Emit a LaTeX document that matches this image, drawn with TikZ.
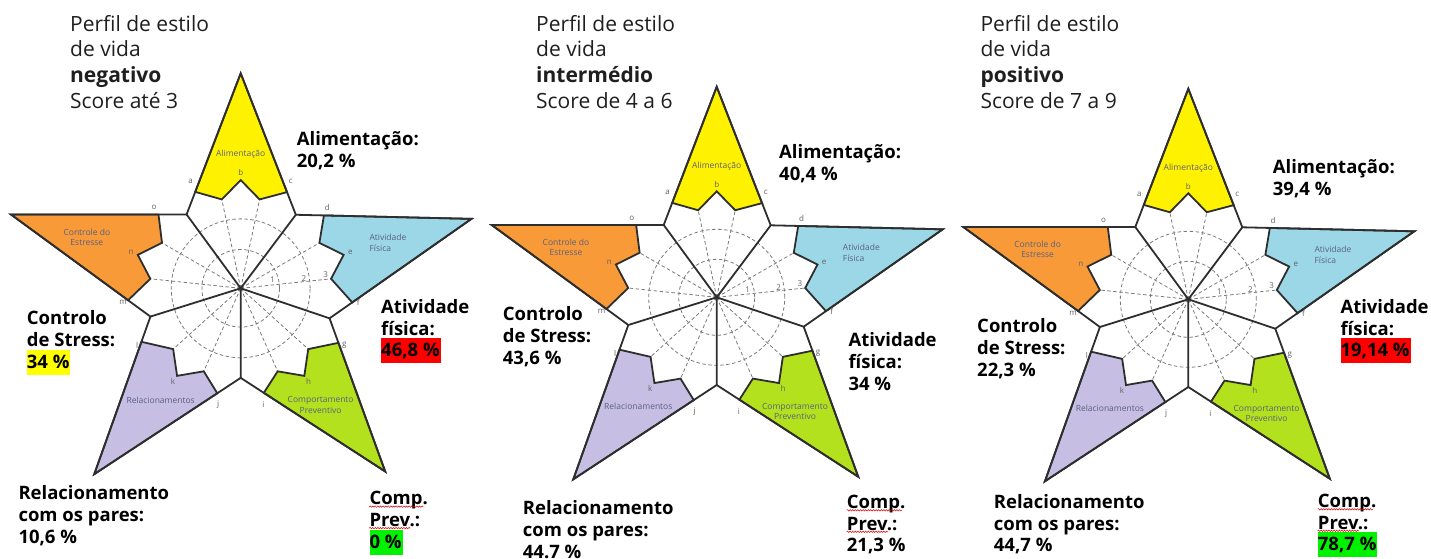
\documentclass[tikz,border=0pt]{standalone}
\usepackage{fontspec}
\setmainfont{Open Sans}
\usetikzlibrary{calc,decorations.pathmorphing}

\definecolor{amarelo}{HTML}{FFF200}
\definecolor{laranja}{HTML}{F89A38}
\definecolor{azul}{HTML}{9BD7E7}
\definecolor{lilas}{HTML}{C6BFE3}
\definecolor{verde}{HTML}{B4E11E}
\definecolor{contorno}{HTML}{2E2E2E}
\definecolor{grelha}{HTML}{7A7A7A}
\definecolor{rotulocor}{HTML}{5C6080}
\definecolor{marcaamarela}{HTML}{FFFF00}
\definecolor{marcavermelha}{HTML}{FF0000}
\definecolor{marcaverde}{HTML}{00F200}

\newcommand{\realce}[2]{\smash{\setlength{\fboxsep}{0pt}\colorbox{#1}{\rule[-6.5pt]{0pt}{25pt}#2\hspace{1pt}}}}

% the Nahas pentagram, centre at (0,0), y upwards
\newcommand{\pentagrama}{%
  \coordinate (O) at (0,0);
  \coordinate (T1) at (0,210.5);
  \coordinate (T2) at (226,68);
  \coordinate (T3) at (141.5,-179.4);
  \coordinate (T4) at (-143.4,-182);
  \coordinate (T5) at (-225,72.3);
  \coordinate (V12) at (54,72);
  \coordinate (V23) at (87,-29.4);
  \coordinate (V34) at (0,-87.7);
  \coordinate (V45) at (-88.4,-27.7);
  \coordinate (V51) at (-53,72.3);
  \fill[white] (T1) -- (V12) -- (T2) -- (V23) -- (T3) -- (V34) -- (T4) -- (V45) -- (T5) -- (V51) -- cycle;
  \draw[grade] (O) circle[radius=38] (O) circle[radius=68];
  \foreach \t in {90,18,-54,-126,162}
    \draw[grade] (O) -- (\t+12:89) (O) -- (\t-12:89);
  \foreach \tip/\vl/\vr/\t/\cor in {T1/V51/V12/90/amarelo, T2/V12/V23/18/azul,
      T3/V23/V34/-54/verde, T4/V34/V45/-126/lilas, T5/V45/V51/162/laranja}
    \filldraw[linha, fill=\cor] ($(\vl)!0.16!(\tip)$) -- (\tip) -- ($(\vr)!0.16!(\tip)$)
      -- (\t-12:89) -- (\t:106) -- (\t+12:89) -- cycle;
  \draw[linha] (T1) -- (V12) -- (T2) -- (V23) -- (T3) -- (V34) -- (T4) -- (V45) -- (T5) -- (V51) -- cycle;
  \draw[linha] (O) -- (V12) (O) -- (V23) (O) -- (V34) (O) -- (V45) (O) -- (V51);
  \foreach \la/\lb/\lc/\t in {a/b/c/90, d/e/f/18, g/h/i/-54, j/k/l/-126, m/n/o/162}{
    \node[letra] (l\la) at (\t+25:116) {\la};
    \node[letra] (l\lb) at (\t:113) {\lb};
    \node[letra] (l\lc) at (\t-25:116) {\lc};
  }
  \node[letra] (n1) at (31,8) {1};
  \node[letra] (n2) at (62,9.6) {2};
  \node[letra] (n3) at (83.3,13.3) {3};
  \node[rotulo] (s1) at (0,131) {Alimentação};
  \node[rotulo, anchor=west, align=left] (s2) at (126,44.6) {Atividade\\Física};
  \node[rotulo] (s3) at (78.3,-114.4) {Comportamento\\Preventivo};
  \node[rotulo] (s4) at (-78.4,-109.4) {Relacionamentos};
  \node[rotulo] (s5) at (-150.7,50) {Controle do\\Estresse};
}

\begin{document}
\begin{tikzpicture}[x=1pt,y=-1pt]
  \tikzstyle{linha}=[draw=contorno, line width=1.8pt, line join=miter]
  \tikzstyle{grade}=[draw=grelha, line width=0.8pt, dash pattern=on 3.5pt off 2.5pt]
  \tikzstyle{letra}=[text=grelha!80!black, font=\fontsize{8}{9}\selectfont, inner sep=0pt]
  \tikzstyle{rotulo}=[text=rotulocor, font=\fontsize{8.5}{10.5}\selectfont, inner sep=0pt, align=center]
  \tikzstyle{titulo}=[font=\fontsize{21}{25.7}\selectfont, align=left, anchor=base west, inner sep=0pt, text=black!88]
  \tikzstyle{valor}=[font=\fontsize{18.5}{21.7}\selectfont\bfseries, align=left, anchor=base west, inner sep=0pt]
  \tikzstyle{corretor}=[draw=red!85!black, line width=0.5pt, decorate, decoration={snake, amplitude=0.7pt, segment length=2.6pt}]

  \fill[white] (0,0) rectangle (1431,559);
  \useasboundingbox (0,0) rectangle (1431,559);

  % negativo
  \begin{scope}[shift={(240.7,288.3)}, yscale=-1, scale=1.021]
    \pentagrama
  \end{scope}
  \node[titulo] (t1) at (70,108.3) {Perfil de estilo\\de vida\\\textbf{negativo}\\Score até 3};
  \node[valor] (al1) at (296.7,167.3) {Alimentação:\\20,2 \%};
  \node[valor] (af1) at (381,356.7) {Atividade\\física:\\\realce{marcavermelha}{46,8 \%}};
  \node[valor] (cs1) at (26.7,368.3) {Controlo\\de Stress:\\\realce{marcaamarela}{34 \%}};
  \node[valor] (rp1) at (18.3,543.3) {Relacionamento\\com os pares:\\10,6 \%};
  \node[valor] (cp1) at (369.3,548) {Comp.\\Prev.:\\\realce{marcaverde}{0 \%}};
  \draw[corretor] ($(cp1.base west)+(0,-41.4)$) -- ++(54,0);
  \draw[corretor] ($(cp1.base west)+(0,-19.9)$) -- ++(41,0);

  % intermedio
  \begin{scope}[shift={(716.7,297.3)}, yscale=-1]
    \pentagrama
  \end{scope}
  \node[titulo] (t2) at (536,108.3) {Perfil de estilo\\de vida\\\textbf{intermédio}\\Score de 4 a 6};
  \node[valor] (al2) at (779,180) {Alimentação:\\40,4 \%};
  \node[valor] (af2) at (848.3,390) {Atividade\\física:\\34 \%};
  \node[valor] (cs2) at (502.7,364) {Controlo\\de Stress:\\43,6 \%};
  \node[valor] (rp2) at (522.7,558) {Relacionamento\\com os pares:\\44.7 \%};
  \node[valor] (cp2) at (846.7,551.7) {Comp.\\Prev.:\\21,3 \%};
  \draw[corretor] ($(cp2.base west)+(0,-41.4)$) -- ++(55,0);
  \draw[corretor] ($(cp2.base west)+(0,-19.9)$) -- ++(41.6,0);

  % positivo
  \begin{scope}[shift={(1188.3,299.3)}, yscale=-1]
    \pentagrama
  \end{scope}
  \node[titulo] (t3) at (980.3,108.3) {Perfil de estilo\\de vida\\\textbf{positivo}\\Score de 7 a 9};
  \node[valor] (al3) at (1272.7,195) {Alimentação:\\39,4 \%};
  \node[valor] (af3) at (1340.3,356.7) {Atividade\\física:\\\realce{marcavermelha}{19,14 \%}};
  \node[valor] (cs3) at (977,376) {Controlo\\de Stress:\\22,3 \%};
  \node[valor] (rp3) at (993.7,551.7) {Relacionamento\\com os pares:\\44,7 \%};
  \node[valor] (cp3) at (1317.7,550.7) {Comp.\\Prev.:\\\realce{marcaverde}{78,7 \%}};
  \draw[corretor] ($(cp3.base west)+(0,-41.4)$) -- ++(55,0);
  \draw[corretor] ($(cp3.base west)+(0,-19.9)$) -- ++(41.6,0);
\end{tikzpicture}
\end{document}
